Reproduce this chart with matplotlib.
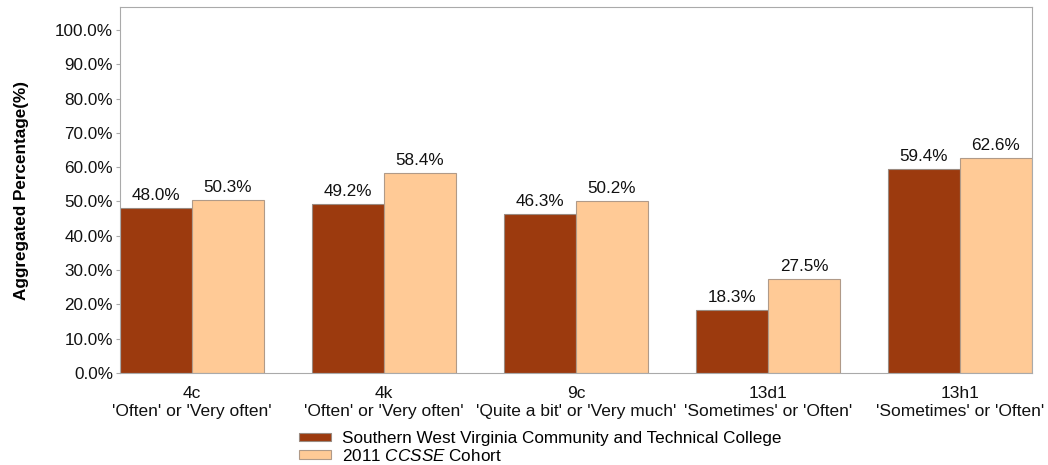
import matplotlib
matplotlib.use("Agg")
import matplotlib.pyplot as plt
import numpy as np

categories = ["4c\n'Often' or 'Very often'", "4k\n'Often' or 'Very often'",
              "9c\n'Quite a bit' or 'Very much'", "13d1\n'Sometimes' or 'Often'",
              "13h1\n'Sometimes' or 'Often'"]
college = [48.0, 49.2, 46.3, 18.3, 59.4]
cohort = [50.3, 58.4, 50.2, 27.5, 62.6]
series_names = ["Southern West Virginia Community and Technical College", "2011 $\\it{CCSSE}$ Cohort"]
yticks = [0, 10, 20, 30, 40, 50, 60, 70, 80, 90, 100]

plt.rcParams['font.family'] = ['Liberation Sans', 'DejaVu Sans']
plt.rcParams['mathtext.fontset'] = 'custom'
plt.rcParams['mathtext.it'] = 'Liberation Sans:italic'
plt.rcParams['mathtext.rm'] = 'Liberation Sans'
fig = plt.figure(figsize=(10.48, 4.65), dpi=100)
ax = fig.add_axes([120/1048, 92/465, 912/1048, 366/465])

x = np.arange(len(categories))
w = 0.375
b1 = ax.bar(x - w/2, college, w, color='#9C3A0E', edgecolor='#9a8a80', linewidth=0.8, label=series_names[0])
b2 = ax.bar(x + w/2, cohort, w, color='#FFCA96', edgecolor='#b09a88', linewidth=0.8, label=series_names[1])

for bars, vals in ((b1, college), (b2, cohort)):
    for r, v in zip(bars, vals):
        ax.text(r.get_x() + r.get_width()/2, v + 1.5, f"{v:.1f}%", ha='center', va='bottom', fontsize=12.3, color='#111111')

ax.set_xlim(-0.375, len(categories) - 1 + 0.375)
ax.set_ylim(0, 106.7)
ax.set_yticks(yticks)
ax.set_yticklabels([f"{t:.1f}%" for t in yticks], fontsize=12.3, color='#111111')
ax.set_xticks(x)
ax.set_xticklabels(categories, fontsize=12.5, color='#111111', linespacing=1.25)
ax.tick_params(axis='x', length=0, pad=9)
ax.tick_params(axis='y', length=3, color='#aaaaaa', pad=2)
for s in ax.spines.values():
    s.set_color('#aaaaaa')
    s.set_linewidth(0.8)
ax.set_ylabel("Aggregated Percentage(%)", fontsize=12.3, fontweight='bold', labelpad=19)

fig.legend(handles=[b1, b2], labels=series_names, loc='upper left', bbox_to_anchor=(299/1048, 1 - 431/465),
           frameon=False, fontsize=12.3, handlelength=1.9, handleheight=0.4, labelspacing=0.1, handletextpad=0.6,
           borderaxespad=0, borderpad=0)

fig.savefig("out.png", dpi=100)
